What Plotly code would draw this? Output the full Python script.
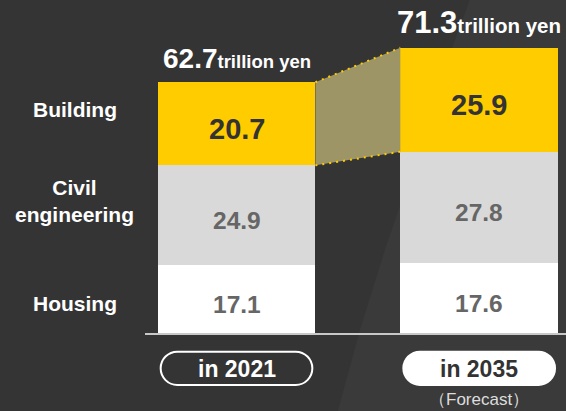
import plotly.graph_objects as go

# Construction investment by segment (trillion yen)
periods = ["in 2021", "in 2035"]
housing = [17.1, 17.6]
civil = [24.9, 27.8]
building = [20.7, 25.9]
totals = [62.7, 71.3]
segment_names = ["Housing", "Civil\nengineering", "Building"]
unit = "trillion yen"
forecast_note = "（Forecast）"

BG = "#343434"
YELLOW = "#ffcc00"
GRAY = "#d9d9d9"
WHITE = "#ffffff"
DARK = "#333333"
MID = "#666666"
FONT = "Arial, Liberation Sans, sans-serif"

BAR_W = 0.65
xs = list(range(len(periods)))

# pixel scale of the axes (used for rounded shapes)
FIG_W, FIG_H = 566, 411
X_RANGE = [-0.9745, 1.3577]
Y_RANGE = [-19.18, 83.19]
px_per_x = FIG_W / (X_RANGE[1] - X_RANGE[0])
px_per_y = FIG_H / (Y_RANGE[1] - Y_RANGE[0])

fig = go.Figure()

series = [(housing, WHITE, MID, 24.5), (civil, GRAY, MID, 24.5), (building, YELLOW, DARK, 29)]
for (vals, color, _, _), name in zip(series, segment_names):
    fig.add_trace(go.Bar(x=xs, y=vals, width=BAR_W, name=name,
                         marker=dict(color=color, line=dict(width=0)),
                         hoverinfo="skip", showlegend=False))

# connector band between the two "Building" segments
base = [h + c for h, c in zip(housing, civil)]
top = [b + v for b, v in zip(base, building)]
xl, xr = xs[0] + BAR_W / 2, xs[1] - BAR_W / 2
fig.add_trace(go.Scatter(x=[xl, xr, xr, xl, xl], y=[top[0], top[1], base[1], base[0], top[0]],
                         mode="lines", fill="toself", fillcolor="#9d9566",
                         line=dict(width=0), hoverinfo="skip", showlegend=False))
for ys in ([top[0], top[1]], [base[0], base[1]]):
    fig.add_trace(go.Scatter(x=[xl, xr], y=ys, mode="lines",
                             line=dict(color=YELLOW, width=2, dash="2px,5px"),
                             hoverinfo="skip", showlegend=False))

annotations = []
# value labels centred in each segment
for i in xs:
    cum = 0
    for vals, _, tcolor, fsize in series:
        mid = cum + vals[i] / 2
        cum += vals[i]
        annotations.append(dict(x=i, y=mid, text=f"<b>{vals[i]:.1f}</b>", showarrow=False,
                                yshift=-5, font=dict(size=fsize, color=tcolor, family=FONT)))

# totals above the bars
for i, (t, big, small) in enumerate(zip(totals, [28, 31], [18.5, 20.5])):
    annotations.append(dict(
        x=i, y=t, yanchor="bottom", yshift=6, showarrow=False,
        text=f"<b><span style='font-size:{big}px'>{t:.1f}</span>"
             f"<span style='font-size:{small}px'>{unit}</span></b>",
        font=dict(color=WHITE, family=FONT)))

# segment names on the left
label_y = [7.5, 33.1, 55.8]
for name, y in zip(segment_names, label_y):
    annotations.append(dict(xref="paper", x=0.1325, xanchor="center", y=y,
                            text="<b>" + name.replace("\n", "<br>") + "</b>",
                            showarrow=False, align="center",
                            font=dict(size=21, color=WHITE, family=FONT)))

shapes = []
# faint building silhouette in the backdrop
shapes.append(dict(type="path", xref="paper", yref="paper", layer="below",
                   path="M0.597,0 L0.636,0.197 L0.680,0.392 L0.710,0.513 "
                        "L0.760,0.732 L0.804,0.903 L0.830,1 L1,1 L1,0 Z",
                   fillcolor="rgba(255,255,255,0.03)", line=dict(width=0)))
# baseline
shapes.append(dict(type="line", xref="x", yref="y", x0=-0.377, x1=X_RANGE[1], y0=0, y1=0,
                   line=dict(color="#c8c8c8", width=2), layer="above"))


def pill_path(cx, half_w, y_top, y_bot):
    ry = (y_top - y_bot) / 2
    rx = ry * px_per_y / px_per_x
    k = 0.5523
    ym = (y_top + y_bot) / 2
    xa, xb = cx - half_w + rx, cx + half_w - rx
    return (f"M{xa},{y_top} L{xb},{y_top} "
            f"C{xb + k * rx},{y_top} {xb + rx},{ym + k * ry} {xb + rx},{ym} "
            f"C{xb + rx},{ym - k * ry} {xb + k * rx},{y_bot} {xb},{y_bot} "
            f"L{xa},{y_bot} "
            f"C{xa - k * rx},{y_bot} {xa - rx},{ym - k * ry} {xa - rx},{ym} "
            f"C{xa - rx},{ym + k * ry} {xa - k * rx},{y_top} {xa},{y_top} Z")


pill_top, pill_bot = -4.41, -12.70
for i, label in enumerate(periods):
    filled = i == 1
    shapes.append(dict(type="path", xref="x", yref="y",
                       path=pill_path(i, 0.3125, pill_top, pill_bot),
                       fillcolor=WHITE if filled else "rgba(0,0,0,0)",
                       line=dict(color=WHITE, width=2)))
    annotations.append(dict(x=i, y=(pill_top + pill_bot) / 2, text=f"<b>{label}</b>", showarrow=False,
                            yshift=-1, font=dict(size=23, color=DARK if filled else WHITE, family=FONT)))

annotations.append(dict(x=1, y=Y_RANGE[0], yanchor="bottom", yshift=0, text=forecast_note,
                        showarrow=False, font=dict(size=17, color="#dddddd", family=FONT)))

fig.update_layout(
    width=FIG_W, height=FIG_H, margin=dict(l=0, r=0, t=0, b=0),
    paper_bgcolor=BG, plot_bgcolor="rgba(0,0,0,0)", barmode="stack",
    xaxis=dict(range=X_RANGE, visible=False, fixedrange=True),
    yaxis=dict(range=Y_RANGE, visible=False, fixedrange=True),
    annotations=annotations, shapes=shapes, showlegend=False,
)

fig.write_html("out.html")
